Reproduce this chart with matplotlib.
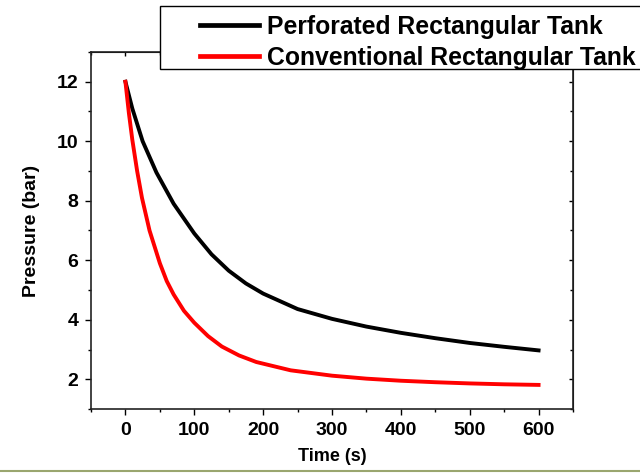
import matplotlib
matplotlib.use("Agg")
import matplotlib.pyplot as plt
from matplotlib.patches import Rectangle
from matplotlib.lines import Line2D
from matplotlib.ticker import MultipleLocator

plt.rcParams['font.family'] = ['Liberation Sans', 'DejaVu Sans']
plt.rcParams['font.weight'] = 'bold'

# Data
t_perf = [0, 10, 25, 45, 70, 100, 125, 150, 175, 200, 250, 300, 350, 400,
          450, 500, 550, 600]
p_perf = [12.0, 11.1, 10.0, 8.95, 7.9, 6.9, 6.2, 5.65, 5.22, 4.88, 4.36, 4.03,
          3.77, 3.56, 3.38, 3.22, 3.09, 2.97]

t_conv = [0, 5, 10, 17, 24, 35, 50, 60, 70, 85, 100, 120, 140, 165, 190, 240,
          300, 350, 400, 450, 500, 550, 600]
p_conv = [12.0, 10.95, 10.05, 9.0, 8.1, 7.0, 5.9, 5.3, 4.85, 4.3, 3.9, 3.45,
          3.1, 2.8, 2.58, 2.30, 2.12, 2.02, 1.95, 1.9, 1.86, 1.83, 1.81]

labels = ["Perforated Rectangular Tank", "Conventional Rectangular Tank"]
colors = ["black", "#ff0000"]
xticks = [0, 100, 200, 300, 400, 500, 600]
yticks = [2, 4, 6, 8, 10, 12]

W, H = 640, 473
fig = plt.figure(figsize=(W / 100, H / 100), dpi=100)
ax = fig.add_axes([91 / W, 1 - 409 / H, (573 - 91) / W, (409 - 52) / H])

ax.plot(t_perf, p_perf, color=colors[0], lw=2.8, solid_joinstyle='round')
ax.plot(t_conv, p_conv, color=colors[1], lw=2.8, solid_joinstyle='round')

ax.set_xlim(-50, 650)
ax.set_ylim(1, 13)
ax.set_xticks(xticks)
ax.set_yticks(yticks)
ax.xaxis.set_minor_locator(MultipleLocator(50))
ax.yaxis.set_minor_locator(MultipleLocator(1))
ax.tick_params(axis='both', which='major', labelsize=14, length=4, width=1,
               direction='out', pad=5, top=False, right=False)
ax.tick_params(axis='both', which='minor', length=2.5, width=1,
               direction='out', top=False, right=False)
for lab in ax.get_xticklabels() + ax.get_yticklabels():
    lab.set_fontweight('bold')

# inward ticks on top / right
axr = ax.secondary_yaxis('right')
axr.set_yticks(yticks)
axr.yaxis.set_minor_locator(MultipleLocator(1))
axr.tick_params(which='major', direction='in', length=3, width=1, labelright=False)
axr.tick_params(which='minor', direction='in', length=2, width=1)
axt = ax.secondary_xaxis('top')
axt.set_xticks(xticks)
axt.xaxis.set_minor_locator(MultipleLocator(50))
axt.tick_params(which='major', direction='in', length=3, width=1, labeltop=False)
axt.tick_params(which='minor', direction='in', length=2, width=1)

for s in ax.spines.values():
    s.set_linewidth(1.2)
    s.set_color('#222222')

ax.set_xlabel("Time (s)", fontsize=13, fontweight='bold', labelpad=7)
ax.set_ylabel("Pressure (bar)", fontsize=14, fontweight='bold', labelpad=12)

# legend frame
rect = Rectangle((160 / W, 1 - 69 / H), 500 / W, 63 / H, transform=fig.transFigure,
                 facecolor='white', edgecolor='black', lw=1.0, zorder=5)
fig.patches.append(rect)

handles = [Line2D([], [], color=c, lw=3.4) for c in colors]
leg = fig.legend(handles, labels, loc='upper left',
                 bbox_to_anchor=(200 / W, 1 - 15 / H), frameon=False,
                 borderpad=0, borderaxespad=0, handlelength=2.4,
                 handletextpad=0.3, labelspacing=0.28,
                 prop={'size': 17.8, 'weight': 'bold'})
leg.set_zorder(6)

# thin olive line at the bottom
fig.add_artist(Line2D([0, 1], [1 - 470.5 / H, 1 - 470.5 / H], transform=fig.transFigure,
                      color='#9aa66f', lw=1.5))

fig.savefig("out.png", dpi=100)
